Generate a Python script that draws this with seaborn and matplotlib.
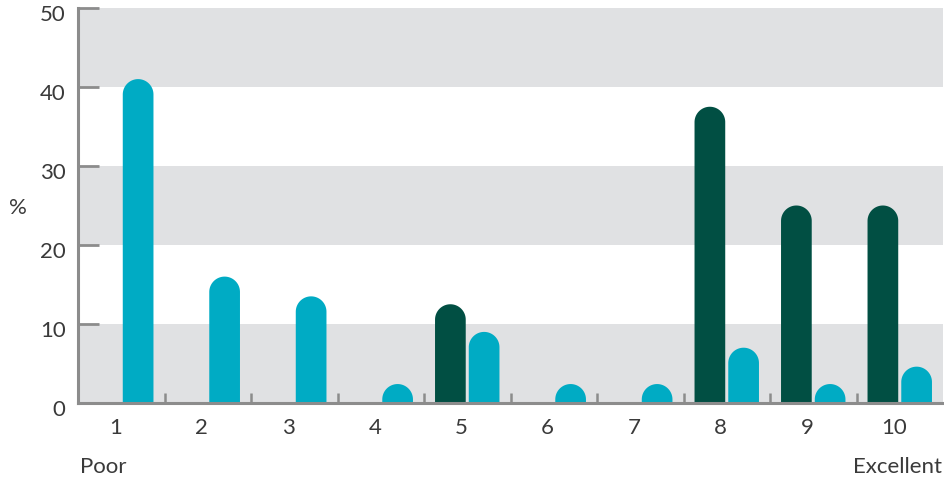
import matplotlib
matplotlib.use("Agg")
import matplotlib.pyplot as plt
import seaborn as sns
import pandas as pd
import numpy as np
from matplotlib.patches import Polygon
from matplotlib.transforms import ScaledTranslation

# Rating scale and the share of respondents (%) per rating for each group
ratings = ["1", "2", "3", "4", "5", "6", "7", "8", "9", "10"]
series_names = ["Group A", "Group B"]
group_a = [0, 0, 0, 0, 12.5, 0, 0, 37.5, 25, 25]
group_b = [41, 16, 13.5, 2.4, 9, 2.4, 2.4, 7, 2.4, 4.6]
y_ticks = [0, 10, 20, 30, 40, 50]

DARK = "#014f43"
TEAL = "#00abc4"
BAND = "#e0e1e3"
AXIS = "#8c8c8c"
TEXT = "#3a3a3a"
FS = 16

sns.set_style("white")
plt.rcParams["font.family"] = ["Lato", "DejaVu Sans"]
plt.rcParams["xtick.direction"] = "in"
plt.rcParams["ytick.direction"] = "in"

df = pd.DataFrame({
    "rating": ratings * 2,
    "value": group_a + group_b,
    "series": [series_names[0]] * len(ratings) + [series_names[1]] * len(ratings),
})

fig = plt.figure(figsize=(9.44, 4.84), dpi=100)
ax = fig.add_axes([78 / 944, 81 / 484, 865 / 944, 395 / 484])

sns.barplot(data=df, x="rating", y="value", hue="series", order=ratings,
            hue_order=series_names, palette=[DARK, TEAL], width=0.78, gap=0.09,
            saturation=1, errorbar=None, legend=False, ax=ax)

ax.set_xlim(-0.5, len(ratings) - 0.5)
ax.set_ylim(0, 50)

# replace the flat-topped bars with round-capped ones
fig.canvas.draw()
bbox = ax.get_window_extent()
px_per_x = bbox.width / (ax.get_xlim()[1] - ax.get_xlim()[0])
px_per_y = bbox.height / (ax.get_ylim()[1] - ax.get_ylim()[0])
for p in list(ax.patches):
    x0, w, h = p.get_x(), p.get_width(), p.get_height()
    color = p.get_facecolor()
    p.remove()
    if h <= 0:
        continue
    rx = w / 2
    ry = rx * px_per_x / px_per_y
    cx = x0 + rx
    base = max(h - ry, 0)
    t = np.linspace(0, np.pi, 60)
    arc = np.column_stack([cx + rx * np.cos(t), base + ry * np.sin(t)])
    pts = np.vstack([[x0 + w, 0], [x0 + w, base], arc, [x0, base], [x0, 0]])
    ax.add_patch(Polygon(pts, closed=True, facecolor=color, edgecolor="none", zorder=3))

# alternating horizontal bands behind the bars
for lo in (0, 20, 40):
    ax.axhspan(lo, lo + 10, color=BAND, lw=0, zorder=0)

# axes styling
for side in ("top", "right"):
    ax.spines[side].set_visible(False)
for side in ("left", "bottom"):
    ax.spines[side].set_color(AXIS)
    ax.spines[side].set_linewidth(2.2)
    ax.spines[side].set_zorder(5)
ax.set_axisbelow(False)

ax.set_yticks(y_ticks)
ax.set_yticklabels([str(v) for v in y_ticks])
ax.tick_params(axis="y", left=True, direction="in", length=15, width=2, color=AXIS,
               labelsize=FS, labelcolor=TEXT, pad=9)
ax.set_xticks(range(len(ratings)))
ax.set_xticklabels(ratings)
ax.set_xticks(np.arange(0.5, len(ratings) - 1, 1.0), minor=True)
ax.tick_params(axis="x", which="major", bottom=False, length=0, labelsize=FS,
               labelcolor=TEXT, pad=11)
ax.tick_params(axis="x", which="minor", bottom=True, direction="in", length=7,
               width=1.8, color=AXIS)
xshift = ScaledTranslation(-0.06, 0, fig.dpi_scale_trans)
for lab in ax.get_xticklabels():
    lab.set_transform(lab.get_transform() + xshift)
yshift = ScaledTranslation(0, -0.05, fig.dpi_scale_trans)
for lab in ax.get_yticklabels():
    lab.set_transform(lab.get_transform() + yshift)

ax.set_xlabel("")
ax.set_ylabel("")
fig.text(18 / 944, 1 - 208 / 484, "%", ha="center", va="center", fontsize=FS, color=TEXT)
fig.text(80 / 944, 1 - 467 / 484, "Poor", ha="left", va="center", fontsize=FS, color=TEXT)
fig.text(942 / 944, 1 - 467 / 484, "Excellent", ha="right", va="center", fontsize=FS, color=TEXT)

fig.savefig("out.png", dpi=100)
